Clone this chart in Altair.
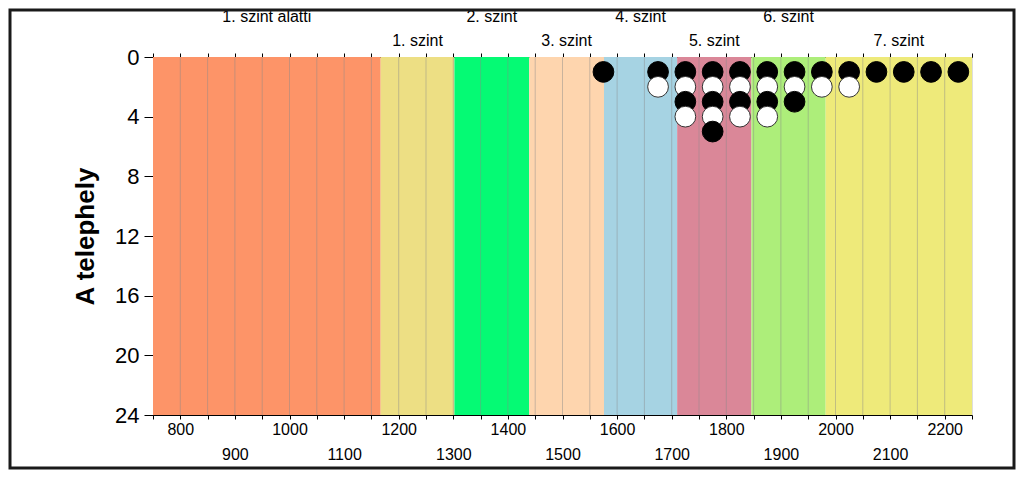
import altair as alt
import pandas as pd

# Bands (levels)
band_names = ["1. szint alatti", "1. szint", "2. szint", "3. szint",
              "4. szint", "5. szint", "6. szint", "7. szint"]
band_start = [750, 1167, 1302, 1439, 1576, 1710, 1846, 1982]
band_end = [1167, 1302, 1439, 1576, 1710, 1846, 1982, 2250]
band_colors = ["#FD9468", "#EDDF84", "#05FA74", "#FED5AE",
               "#A6D3E3", "#DA8798", "#ADEE7A", "#EEEA7A"]
band_row = ["upper", "lower", "upper", "lower", "upper", "lower", "upper", "lower"]

# Dots
dot_x = [1575,
         1675, 1675,
         1725, 1725, 1725, 1725,
         1775, 1775, 1775, 1775, 1775,
         1825, 1825, 1825, 1825,
         1875, 1875, 1875, 1875,
         1925, 1925, 1925,
         1975, 1975,
         2025, 2025,
         2075, 2125, 2175, 2225]
dot_y = [1,
         1, 2,
         1, 2, 3, 4,
         1, 2, 3, 4, 5,
         1, 2, 3, 4,
         1, 2, 3, 4,
         1, 2, 3,
         1, 2,
         1, 2,
         1, 1, 1, 1]
dot_kind = ["fekete" if v % 2 == 1 else "fehér" for v in dot_y]

grid_values = list(range(800, 2250, 50))
tick_values = list(range(750, 2251, 50))
y_ticks = [0, 4, 8, 12, 16, 20, 24]

FONT = "Liberation Sans"
W, H = 819, 358

bands = pd.DataFrame({
    "name": band_names, "start": band_start, "end": band_end,
    "color": band_colors, "row": band_row,
    "mid": [(a + b) / 2 for a, b in zip(band_start, band_end)],
    "y0": 0, "y1": 24,
})
grid = pd.DataFrame({"gx": grid_values, "y0": 0, "y1": 24})
dots = pd.DataFrame({"x": dot_x, "y": dot_y, "kind": dot_kind,
                     "idx": list(range(len(dot_x)))})

xscale = alt.Scale(domain=[750, 2250], nice=False, zero=False)
yscale = alt.Scale(domain=[0, 24], reverse=True, nice=False, zero=False)

yaxis = alt.Axis(values=y_ticks, title="A telephely", grid=False,
                 tickSize=9, tickColor="black", domainColor="black",
                 labelFont=FONT, labelFontSize=22, labelColor="black",
                 labelPadding=5, titleFont=FONT, titleFontSize=26,
                 titleFontWeight="bold", titleColor="black",
                 titlePadding=16)

band_layer = alt.Chart(bands).mark_rect().encode(
    x=alt.X("start:Q", scale=xscale,
            axis=alt.Axis(orient="bottom", values=tick_values, title=None,
                          grid=False, tickSize=4, tickColor="black",
                          domainColor="black", labelFont=FONT,
                          labelFontSize=16, labelColor="black",
                          labelOverlap=False, labelBound=False,
                          labelPadding=2, labelLineHeight=25,
                          labelExpr="datum.value % 100 != 0 ? '' : (datum.value % 200 == 0 ? '' + datum.value : ['', '' + datum.value])")),
    x2="end:Q",
    y=alt.Y("y0:Q", scale=yscale, axis=yaxis),
    y2="y1:Q",
    color=alt.Color("color:N", scale=None),
)

grid_layer = alt.Chart(grid).mark_rule(color="#8a8a8a", opacity=0.45, strokeWidth=1).encode(
    x=alt.X("gx:Q", scale=xscale,
            axis=alt.Axis(orient="top", values=tick_values, title=None,
                          grid=False, labels=False, tickSize=4,
                          tickColor="black", domainColor="black")),
    y=alt.Y("y0:Q", scale=yscale, axis=yaxis),
    y2="y1:Q",
)

dot_layer = alt.Chart(dots).mark_point(filled=True, shape="circle", size=430,
                                      strokeWidth=1, opacity=1).encode(
    x=alt.X("x:Q", scale=xscale, axis=None),
    y=alt.Y("y:Q", scale=yscale, axis=yaxis),
    fill=alt.Fill("kind:N", scale=alt.Scale(domain=["fekete", "fehér"],
                                            range=["#000000", "#ffffff"]),
                  legend=None),
    stroke=alt.Stroke("kind:N", scale=alt.Scale(domain=["fekete", "fehér"],
                                                range=["#000000", "#333333"]),
                      legend=None),
    order=alt.Order("idx:Q"),
)

upper_text = alt.Chart(bands).transform_filter(
    alt.datum.row == "upper").mark_text(
    font=FONT, fontSize=16, color="black", baseline="middle", align="center").encode(
    x=alt.X("mid:Q", scale=xscale, axis=None),
    y=alt.value(-40),
    text="name:N",
)
lower_text = alt.Chart(bands).transform_filter(
    alt.datum.row == "lower").mark_text(
    font=FONT, fontSize=16, color="black", baseline="middle", align="center").encode(
    x=alt.X("mid:Q", scale=xscale, axis=None),
    y=alt.value(-16),
    text="name:N",
)

frame = alt.Chart(pd.DataFrame({"a": [0]})).mark_rect(
    fill=None, stroke="#1a1a1a", strokeWidth=3).encode(
    x=alt.value(-143), x2=alt.value(W + 42),
    y=alt.value(-47), y2=alt.value(H + 53),
)

chart = alt.layer(
    band_layer, grid_layer, dot_layer, upper_text, lower_text, frame
).resolve_axis(x="independent", y="shared").properties(
    width=W, height=H,
    autosize=alt.AutoSizeParams(type="none"),
    padding={"left": 145, "top": 49, "right": 44, "bottom": 55},
).configure_view(stroke=None).configure(background="white")

chart.save("out.html", embed_options={"renderer": "svg", "actions": False})
